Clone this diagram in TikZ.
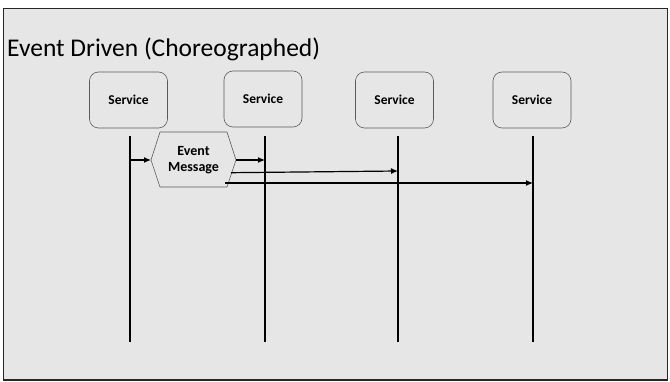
\documentclass[tikz,border=0pt]{standalone}
\usepackage{fontspec}
\setmainfont{Carlito}
\usetikzlibrary{arrows.meta,shapes.geometric}
\definecolor{slidebg}{HTML}{E6E6E6}
\definecolor{boxline}{HTML}{5A5A5A}
\tikzset{
  service/.style={draw=boxline, line width=0.6pt, rounded corners=9pt,
    minimum width=78pt, minimum height=56pt, inner sep=0pt,
    font=\bfseries\fontsize{13.5}{15}\selectfont},
  lifeline/.style={line width=1.6pt},
  msg/.style={line width=1.2pt, -{Latex[length=7pt,width=6pt]}},
}
\begin{document}
\begin{tikzpicture}[x=1pt,y=-1pt]
\useasboundingbox (0,0) rectangle (670,382);
% slide frame
\draw[fill=slidebg, draw=black!85, line width=1.5pt] (3.5,8.5) rectangle (667.5,380);
% title
\node[anchor=base west, inner sep=0pt, font=\fontsize{25.5}{30}\selectfont] (title) at (7,57) {Event Driven (Choreographed)};
% services
\node[service] (s1) at (128.5,100) {Service};
\node[service] (s2) at (263,99) {Service};
\node[service] (s3) at (394.5,100) {Service};
\node[service] (s4) at (532,100) {Service};
% lifelines
\coordinate (t1) at (130,136); \coordinate (b1) at (130,342);
\coordinate (t2) at (265,136); \coordinate (b2) at (265,342);
\coordinate (t3) at (398,136); \coordinate (b3) at (398,342);
\coordinate (t4) at (533,136); \coordinate (b4) at (533,342);
\draw[lifeline] (t1) -- (b1);
\draw[lifeline] (t2) -- (b2);
\draw[lifeline] (t3) -- (b3);
\draw[lifeline] (t4) -- (b4);
% event message hexagon
\draw[draw=boxline, line width=0.6pt, fill=slidebg]
  (151,160) coordinate (hw) -- (160,132) -- (227,132) -- (236,160) coordinate (he)
  -- (227,187) -- (160,187) -- cycle;
\node[align=center, inner sep=0pt, font=\bfseries\fontsize{14}{16}\selectfont] (ev) at (193.5,160) {Event\\Message};
% messages
\coordinate (m1) at (130,160);
\coordinate (m2) at (265,160);
\coordinate (h3) at (231,172.7); \coordinate (m3) at (398,171);
\coordinate (h4) at (225,183); \coordinate (m4) at (533,183);
\draw[msg] (m1) -- (hw);
\draw[msg] (he) -- (m2);
\draw[msg] (h3) -- (m3);
\draw[msg] (h4) -- (m4);
\end{tikzpicture}
\end{document}
